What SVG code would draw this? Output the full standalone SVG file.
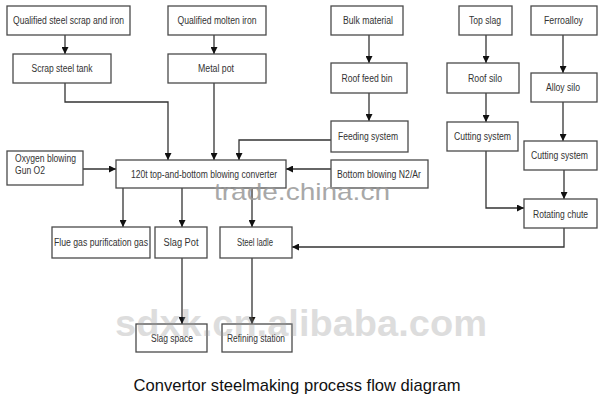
<svg xmlns="http://www.w3.org/2000/svg" width="603" height="403" viewBox="0 0 603 403">
<defs>
<style>
.box{fill:#fff;stroke:#4a4a4a;stroke-width:1.3}
.t{font-family:"Liberation Sans",Arial,sans-serif;font-size:10px;fill:#333;text-anchor:middle}
.tl{font-family:"Liberation Sans",Arial,sans-serif;font-size:10px;fill:#333}
.c{fill:none;stroke:#333;stroke-width:1.3}
.wm{font-family:"Liberation Sans",Arial,sans-serif;fill:#9a9a9a}
</style>
<marker id="ah" viewBox="0 0 10 10" refX="10" refY="5" markerWidth="7" markerHeight="7" markerUnits="userSpaceOnUse" orient="auto">
<path d="M0,0 L10,5 L0,10 z" fill="#111"/>
</marker>
</defs>
<rect width="603" height="403" fill="#fff"/>

<g id="connectors" marker-end="url(#ah)">
<path class="c" d="M65,35 V54"/>
<path class="c" d="M214,35 V54"/>
<path class="c" d="M369,35 V63"/>
<path class="c" d="M369,93 V121"/>
<path class="c" d="M486,35 V63"/>
<path class="c" d="M486,93 V122"/>
<path class="c" d="M563,35 V73"/>
<path class="c" d="M563,102 V141"/>
<path class="c" d="M65,83 V102 H168 V160"/>
<path class="c" d="M214,83 V160"/>
<path class="c" d="M331,140 H239 V160"/>
<path class="c" d="M83,169 H116"/>
<path class="c" d="M331,169 H286"/>
<path class="c" d="M123,188 V227"/>
<path class="c" d="M182,188 V227"/>
<path class="c" d="M252,188 V227"/>
<path class="c" d="M182,258 V324"/>
<path class="c" d="M252,258 V324"/>
<path class="c" d="M486,151 V208 H524"/>
<path class="c" d="M564,170 V199"/>
<path class="c" d="M564,228 V247 H292"/>
</g>

<g id="n-scrap-iron"><rect class="box" x="7" y="6" width="123" height="29"/><text class="t" x="68.5" y="24" textLength="111" lengthAdjust="spacingAndGlyphs">Qualified steel scrap and iron</text></g>
<g id="n-scrap-tank"><rect class="box" x="13" y="54" width="98" height="29"/><text class="t" x="62" y="72" textLength="61" lengthAdjust="spacingAndGlyphs">Scrap steel tank</text></g>
<g id="n-molten-iron"><rect class="box" x="168" y="6" width="98" height="29"/><text class="t" x="217" y="24" textLength="79" lengthAdjust="spacingAndGlyphs">Qualified molten iron</text></g>
<g id="n-metal-pot"><rect class="box" x="168" y="54" width="98" height="29"/><text class="t" x="216" y="72" textLength="36" lengthAdjust="spacingAndGlyphs">Metal pot</text></g>
<g id="n-bulk"><rect class="box" x="331" y="6" width="72" height="29"/><text class="t" x="368" y="24" textLength="50" lengthAdjust="spacingAndGlyphs">Bulk material</text></g>
<g id="n-roof-feed"><rect class="box" x="331" y="63" width="76" height="30"/><text class="t" x="367" y="82" textLength="51" lengthAdjust="spacingAndGlyphs">Roof feed bin</text></g>
<g id="n-feeding"><rect class="box" x="331" y="121" width="77" height="31"/><text class="t" x="368" y="140" textLength="60" lengthAdjust="spacingAndGlyphs">Feeding system</text></g>
<g id="n-top-slag"><rect class="box" x="459" y="6" width="53" height="29"/><text class="t" x="485" y="24" textLength="32" lengthAdjust="spacingAndGlyphs">Top slag</text></g>
<g id="n-roof-silo"><rect class="box" x="447" y="63" width="72" height="30"/><text class="t" x="485" y="82" textLength="34" lengthAdjust="spacingAndGlyphs">Roof silo</text></g>
<g id="n-cutting-1"><rect class="box" x="447" y="122" width="71" height="29"/><text class="t" x="482.5" y="140" textLength="57" lengthAdjust="spacingAndGlyphs">Cutting system</text></g>
<g id="n-ferroalloy"><rect class="box" x="531" y="6" width="66" height="29"/><text class="t" x="563.5" y="24" textLength="39" lengthAdjust="spacingAndGlyphs">Ferroalloy</text></g>
<g id="n-alloy-silo"><rect class="box" x="531" y="73" width="66" height="29"/><text class="t" x="563" y="91" textLength="34" lengthAdjust="spacingAndGlyphs">Alloy silo</text></g>
<g id="n-cutting-2"><rect class="box" x="524" y="141" width="73" height="29"/><text class="t" x="559.5" y="159" textLength="57" lengthAdjust="spacingAndGlyphs">Cutting system</text></g>
<g id="n-rotating"><rect class="box" x="524" y="199" width="73" height="29"/><text class="t" x="560.5" y="218" textLength="55" lengthAdjust="spacingAndGlyphs">Rotating chute</text></g>
<g id="n-oxygen"><rect class="box" x="7" y="151" width="76" height="34"/><text class="tl" x="15" y="162" textLength="61" lengthAdjust="spacingAndGlyphs">Oxygen blowing</text><text class="tl" x="15" y="174" textLength="30" lengthAdjust="spacingAndGlyphs">Gun O2</text></g>
<g id="n-converter"><rect class="box" x="116" y="160" width="170" height="28"/><text class="t" x="204" y="178" textLength="146" lengthAdjust="spacingAndGlyphs">120t top-and-bottom blowing converter</text></g>
<g id="n-bottom-blowing"><rect class="box" x="331" y="160" width="97" height="28"/><text class="tl" x="337" y="178" textLength="84" lengthAdjust="spacingAndGlyphs">Bottom blowing N2/Ar</text></g>
<g id="n-flue"><rect class="box" x="52" y="227" width="98" height="31"/><text class="t" x="101" y="246" textLength="94" lengthAdjust="spacingAndGlyphs">Flue gas purification gas</text></g>
<g id="n-slag-pot"><rect class="box" x="155" y="227" width="52" height="31"/><text class="t" x="181" y="246" textLength="35" lengthAdjust="spacingAndGlyphs">Slag Pot</text></g>
<g id="n-steel-ladle"><rect class="box" x="220" y="227" width="72" height="31"/><text class="t" x="255" y="246" textLength="36" lengthAdjust="spacingAndGlyphs">Steel ladle</text></g>
<g id="n-slag-space"><rect class="box" x="136" y="324" width="71" height="28"/><text class="t" x="172" y="342" textLength="42" lengthAdjust="spacingAndGlyphs">Slag space</text></g>
<g id="n-refining"><rect class="box" x="222" y="324" width="70" height="28"/><text class="t" x="256" y="342" textLength="58" lengthAdjust="spacingAndGlyphs">Refining station</text></g>

<g id="watermarks">
<text class="wm" x="302" y="200" font-size="24" text-anchor="middle" textLength="176" lengthAdjust="spacingAndGlyphs" opacity="0.85">trade.china.cn</text>
<text class="wm" x="301" y="336" font-size="37" font-weight="bold" text-anchor="middle" textLength="372" lengthAdjust="spacingAndGlyphs" opacity="0.33">sdxk.cn.alibaba.com</text>
</g>

<text x="297" y="391" font-family="'Liberation Sans',Arial,sans-serif" font-size="17" fill="#111" text-anchor="middle" textLength="327" lengthAdjust="spacingAndGlyphs">Convertor steelmaking process flow diagram</text>
</svg>
